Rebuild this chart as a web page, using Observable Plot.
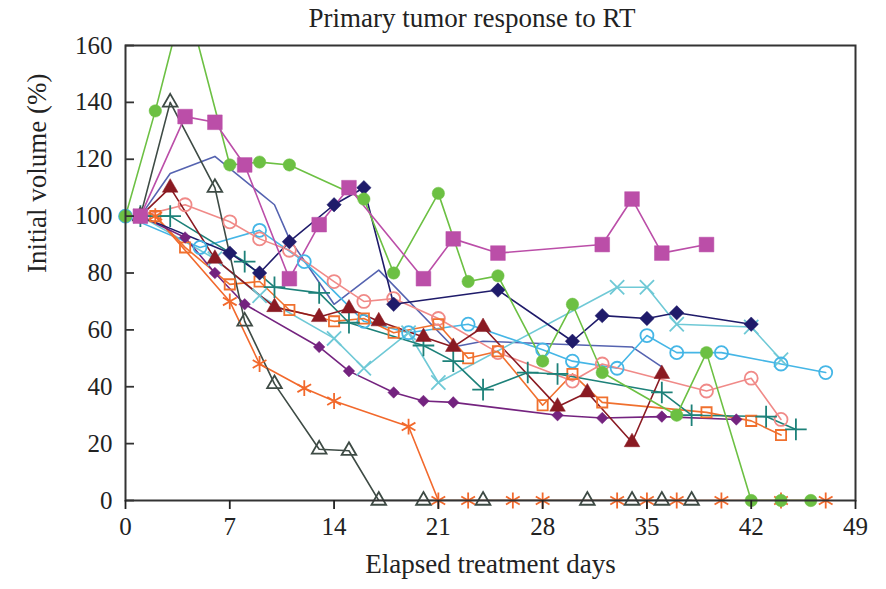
<!DOCTYPE html>
<html>
<head>
<meta charset="utf-8">
<script src="https://cdn.jsdelivr.net/npm/d3@7"></script>
<script src="https://cdn.jsdelivr.net/npm/@observablehq/plot@0.6"></script>
<style>
  html, body { margin: 0; padding: 0; background: #fff; }
  #wrap { position: relative; width: 886px; height: 589px; font-family: "Liberation Serif", "DejaVu Serif", serif; }
  #title { position: absolute; z-index: 2; left: 472px; top: 0; transform: translateX(-50%); height: 36px; line-height: 36px; font-size: 27px; color: #222; white-space: nowrap; }
  #chart { position: absolute; left: 0; top: 0; }
</style>
</head>
<body>
<div id="wrap">
  <div id="title">Primary tumor response to RT</div>
  <div id="chart"></div>
</div>
<script>
// Tick labels
const xTicks = [0, 7, 14, 21, 28, 35, 42, 49];
const yTicks = [0, 20, 40, 60, 80, 100, 120, 140, 160];

// Series values: [elapsed day, initial volume %]
const greenCircle = [[0,100],[2,137],[4,178],[7,118],[9,119],[11,118],[16,106],[18,80],[21,108],[23,77],[25,79],[28,49],[30,69],[32,45],[37,30],[39,52],[42,0],[44,0],[46,0]];
const magentaSquare = [[1,100],[4,135],[6,133],[8,118],[11,78],[13,97],[15,110],[20,78],[22,92],[25,87],[32,90],[34,106],[36,87],[39,90]];
const navyDiamond = [[1,100],[7,87],[9,80],[11,91],[14,104],[16,110],[18,69],[25,74],[30,56],[32,65],[35,64],[37,66],[42,62]];
const blueLine = [[1,100],[3,115],[6,121],[10,104],[11,92],[14,69],[17,81],[22,54],[24,56],[34,54],[36,47]];
const grayTriangle = [[1,100],[3,140],[6,110],[8,63],[10,41],[13,18],[15,17.5],[17,0],[20,0],[24,0],[31,0],[34,0],[36,0],[38,0]];
const orangeStar = [[2,100],[7,70],[9,48],[12,39.5],[14,35],[19,26],[21,0],[23,0],[26,0],[28,0],[33,0],[35,0],[37,0],[40,0],[44,0],[47,0]];
const orangeSquare = [[2,100],[4,89],[7,76],[9,77],[11,67],[14,63],[16,64],[18,59],[21,62],[23,50],[25,52.5],[28,33.5],[30,44.5],[32,34.5],[39,31],[42,28],[44,23]];
const pinkCircle = [[1,100],[4,104],[7,98],[9,92],[11,88],[14,77],[16,70],[18,71],[21,64],[25,52],[30,42],[32,48],[39,38.5],[42,43],[44,28.5]];
const cyanCircle = [[0,100],[5,89],[9,95],[12,84],[16,63],[19,59],[23,62],[28,53],[30,49],[33,46.5],[35,58],[37,52],[40,52],[44,48],[47,45]];
const lightCyanX = [[1,100],[6,85],[9,72],[14,57],[16,46.5],[19,59],[21,41.5],[33,75],[35,75],[37,62],[42,61],[44,49.5]];
const tealPlus = [[1,100],[3,100],[8,84],[10,75],[13,73],[15,62.5],[20,54.5],[22,49],[24,39],[27,45],[29,44.5],[36,38],[38,30],[43,29.5],[45,25]];
const redTriangle = [[1,100],[3,110],[6,85],[10,68],[13,64.5],[15,67.5],[17,63],[20,57.5],[22,54],[24,61],[29,33],[31,38],[34,20.5],[36,44.5]];
const purpleDiamond = [[1,100],[4,92.5],[6,80],[8,69],[13,54],[15,45.5],[18,38],[20,35],[22,34.5],[29,30],[32,29],[36,29.5],[41,28.5]];

// Styles per series
const series = [
  {data: blueLine, color: "#5563b0", symbol: null},
  {data: lightCyanX, color: "#6fc9d6", symbol: "times", r: 6.5, filled: false},
  {data: cyanCircle, color: "#45b6e6", symbol: "circle", r: 6.5, filled: false},
  {data: pinkCircle, color: "#f08a88", symbol: "circle", r: 6.5, filled: false},
  {data: orangeSquare, color: "#f0702e", symbol: "square2", r: 6.5, filled: false},
  {data: orangeStar, color: "#f2692c", symbol: "asterisk", r: 7.5, filled: false},
  {data: tealPlus, color: "#1d8179", symbol: "plus", r: 7, filled: false},
  {data: purpleDiamond, color: "#74237f", symbol: "diamond2", r: 5.2, filled: true},
  {data: redTriangle, color: "#8a1a22", symbol: "triangle", r: 5.8, filled: true},
  {data: grayTriangle, color: "#3e4b45", symbol: "triangle2", r: 7, filled: false},
  {data: navyDiamond, color: "#1f1b6a", symbol: "diamond2", r: 6.5, filled: true},
  {data: greenCircle, color: "#6cc043", symbol: "circle", r: 6.2, filled: true},
  {data: magentaSquare, color: "#bb4ea8", symbol: "square", r: 8.3, filled: true}
];

const marks = [];
for (const s of series) {
  marks.push(Plot.line(s.data, {x: d => d[0], y: d => d[1], stroke: s.color, strokeWidth: 1.6, clip: true}));
}
for (const s of series) {
  if (!s.symbol) continue;
  const visible = s.data.filter(d => d[1] <= 160);
  marks.push(Plot.dot(visible, {
    x: d => d[0], y: d => d[1], symbol: s.symbol, r: s.r,
    fill: s.filled ? s.color : "none",
    stroke: s.color, strokeWidth: s.filled ? 0.5 : 1.8
  }));
}

const plot = Plot.plot({
  width: 886,
  height: 589,
  marginTop: 45,
  marginBottom: 89,
  marginLeft: 125,
  marginRight: 31,
  style: {fontFamily: "Liberation Serif, DejaVu Serif, serif", fontSize: "25px", color: "#222", background: "transparent"},
  x: {domain: [0, 49]},
  y: {domain: [0, 160]},
  marks: [
    ...marks,
    Plot.frame({stroke: "#333", strokeWidth: 2}),
    Plot.tickY(yTicks, {y: d => d, insetRight: 721, stroke: "#333", strokeWidth: 1.8}),
    Plot.axisX({ticks: xTicks, tickSize: 9, tickPadding: 8, strokeWidth: 1.8, label: null, tickFormat: d => String(d)}),
    Plot.axisY({ticks: yTicks, tickSize: 0, tickPadding: 13, label: null, tickFormat: d => String(d)}),
    Plot.text(["Elapsed treatment days"], {frameAnchor: "bottom", dy: 72, fontSize: 27, fill: "#222"}),
    Plot.text(["Initial volume (%)"], {frameAnchor: "left", dx: -88, rotate: -90, fontSize: 27, fill: "#222"})
  ]
});
document.getElementById("chart").appendChild(plot);
</script>
</body>
</html>
